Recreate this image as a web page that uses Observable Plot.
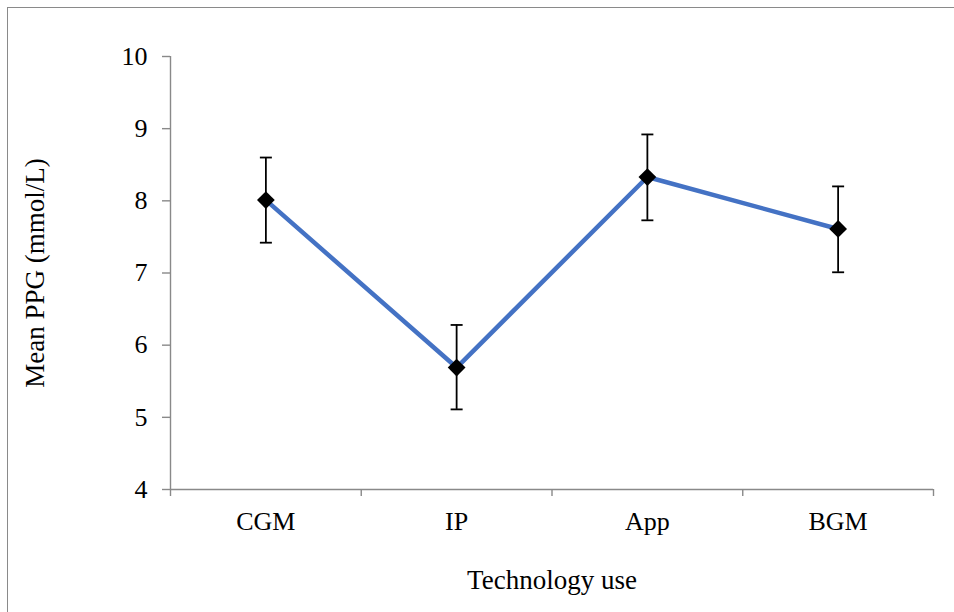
<!DOCTYPE html>
<html><head><meta charset="utf-8">
<script src="https://cdn.jsdelivr.net/npm/d3@7"></script>
<script src="https://cdn.jsdelivr.net/npm/@observablehq/plot@0.6"></script>
<style>
html,body{margin:0;padding:0;background:#fff;overflow:hidden;width:954px;height:612px;}
#frame{position:absolute;left:7px;top:7px;width:1000px;height:700px;border:1.5px solid #8a8a8a;}
#chart{position:absolute;left:0;top:0;}
</style></head><body>
<div id="frame"></div><div id="chart"></div>
<script>
const categories = ["CGM", "IP", "App", "BGM"];
const means = [8.01, 5.69, 8.33, 7.61];
const lower = [7.42, 5.11, 7.73, 7.01];
const upper = [8.60, 6.28, 8.92, 8.20];
const yTicks = [4, 5, 6, 7, 8, 9, 10];
const xTitle = "Technology use";
const yTitle = "Mean PPG (mmol/L)";

const data = categories.map((c, i) => ({cat: c, pos: i + 0.5, mean: means[i], lo: lower[i], hi: upper[i]}));
const boundaries = d3.range(categories.length + 1);
const centers = data.map(d => d.pos);

const axisGray = "#898989";
const capSymbol = {draw(ctx) { ctx.moveTo(-6, 0); ctx.lineTo(6, 0); }};

const chart = Plot.plot({
  width: 954, height: 612,
  marginLeft: 170, marginRight: 21, marginTop: 56, marginBottom: 123,
  style: {fontFamily: "'Liberation Serif','Times New Roman',serif", fontSize: "26px", color: "#000", background: "transparent"},
  x: {type: "linear", domain: [0, categories.length]},
  y: {domain: [4, 10]},
  marks: [
    Plot.ruleX([0], {y1: 4, y2: 10, stroke: axisGray, strokeWidth: 1.4}),
    Plot.ruleY([4], {x1: 0, x2: categories.length, stroke: axisGray, strokeWidth: 1.4}),
    Plot.axisY({ticks: yTicks, tickSize: 8, tickPadding: 15, tickFormat: d => String(d), stroke: axisGray, strokeWidth: 1.4, fill: "#000",
      fontSize: 26, label: null}),
    Plot.axisX({ticks: boundaries, tickSize: 7, tickFormat: () => "", stroke: axisGray, strokeWidth: 1.4, label: null}),
    Plot.axisX({ticks: centers, tickSize: 0, tickPadding: 22, tickFormat: v => categories[Math.floor(v)],
      fill: "#000", fontSize: 26, label: null}),
    Plot.text([yTitle], {frameAnchor: "left", textAnchor: "middle", dx: -135, rotate: -90, fontSize: 27, fill: "#000"}),
    Plot.text([xTitle], {frameAnchor: "bottom", textAnchor: "middle", dy: 99, fontSize: 27, fill: "#000"}),
    Plot.line(data, {x: "pos", y: "mean", stroke: "#4472C4", strokeWidth: 4.5}),
    Plot.ruleX(data, {x: "pos", y1: "lo", y2: "hi", stroke: "#000", strokeWidth: 1.8}),
    Plot.dot(data, {x: "pos", y: "lo", symbol: capSymbol, r: 6, stroke: "#000", strokeWidth: 1.8, fill: "none"}),
    Plot.dot(data, {x: "pos", y: "hi", symbol: capSymbol, r: 6, stroke: "#000", strokeWidth: 1.8, fill: "none"}),
    Plot.dot(data, {x: "pos", y: "mean", symbol: "diamond2", r: 8, fill: "#000", stroke: "none"})
  ]
});
document.getElementById("chart").appendChild(chart);
</script>
</body></html>
